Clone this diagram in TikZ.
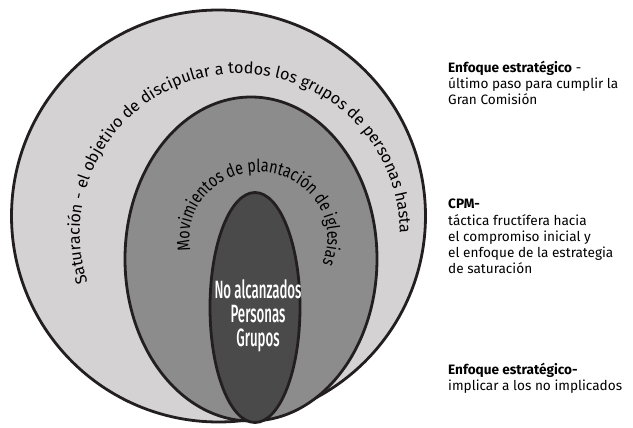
\documentclass[tikz,border=0pt]{standalone}
\usepackage{fontspec}
\setmainfont{Fira Sans}
\newfontfamily\condfont[FakeStretch=0.8]{Fira Sans}
\newfontfamily\narrowfont[FakeStretch=0.53]{Fira Sans Medium}
\usetikzlibrary{decorations.text}

\definecolor{ringline}{RGB}{35,31,32}
\definecolor{outerfill}{RGB}{213,210,211}
\definecolor{midfill}{RGB}{140,140,140}
\definecolor{innerfill}{RGB}{74,74,74}

\newcommand\outerringfont{\fontsize{16.2}{16}\selectfont}
\newcommand\midringfont{\condfont\fontsize{18}{17}\selectfont}

\begin{document}
\begin{tikzpicture}[x=1pt, y=-1pt,
    ring/.style={draw=ringline, line width=2.8pt},
    sidetext/.style={anchor=north west, align=left, inner sep=0pt,
                     font=\fontsize{13.6}{16.2}\selectfont},
    ringtext/.style={decorate, decoration={text along path, text align=center, text={#1}}}
]
\useasboundingbox (0,0) rectangle (633,428);

% Rings
\draw[ring, fill=outerfill] (218.5,216) ellipse[x radius=207, y radius=206];
\draw[ring, fill=midfill] (251,259) ellipse[x radius=126, y radius=162];
\draw[ring, fill=innerfill] (255,307.5) ellipse[x radius=45, y radius=115];

% Curved labels
\path[ringtext={|\outerringfont|Saturación - el objetivo de discipular a todos los grupos de personas hasta}]
    (88.5,285.7) arc[start angle=161, end angle=361, radius=160];
\path[ringtext={|\midringfont|Movimientos de plantación de iglesias}]
    (190.5,249.5) arc[start angle=170, end angle=382, x radius=69, y radius=66];

% Core
\node[align=center, text=white, font=\narrowfont\fontsize{25}{24}\selectfont] (core) at (258,316)
    {No alcanzados\\Personas\\Grupos};

% Side notes
\node[sidetext] (goal) at (448,61)
    {\textbf{Enfoque estratégico} -\\último paso para cumplir la\\Gran Comisión};
\node[sidetext] (cpm) at (448,199)
    {\textbf{CPM-}\\táctica fructífera hacia\\el compromiso inicial y\\el enfoque de la estrategia\\de saturación};
\node[sidetext] (engage) at (448,363)
    {\textbf{Enfoque estratégico-}\\implicar a los no implicados};

\end{tikzpicture}
\end{document}
